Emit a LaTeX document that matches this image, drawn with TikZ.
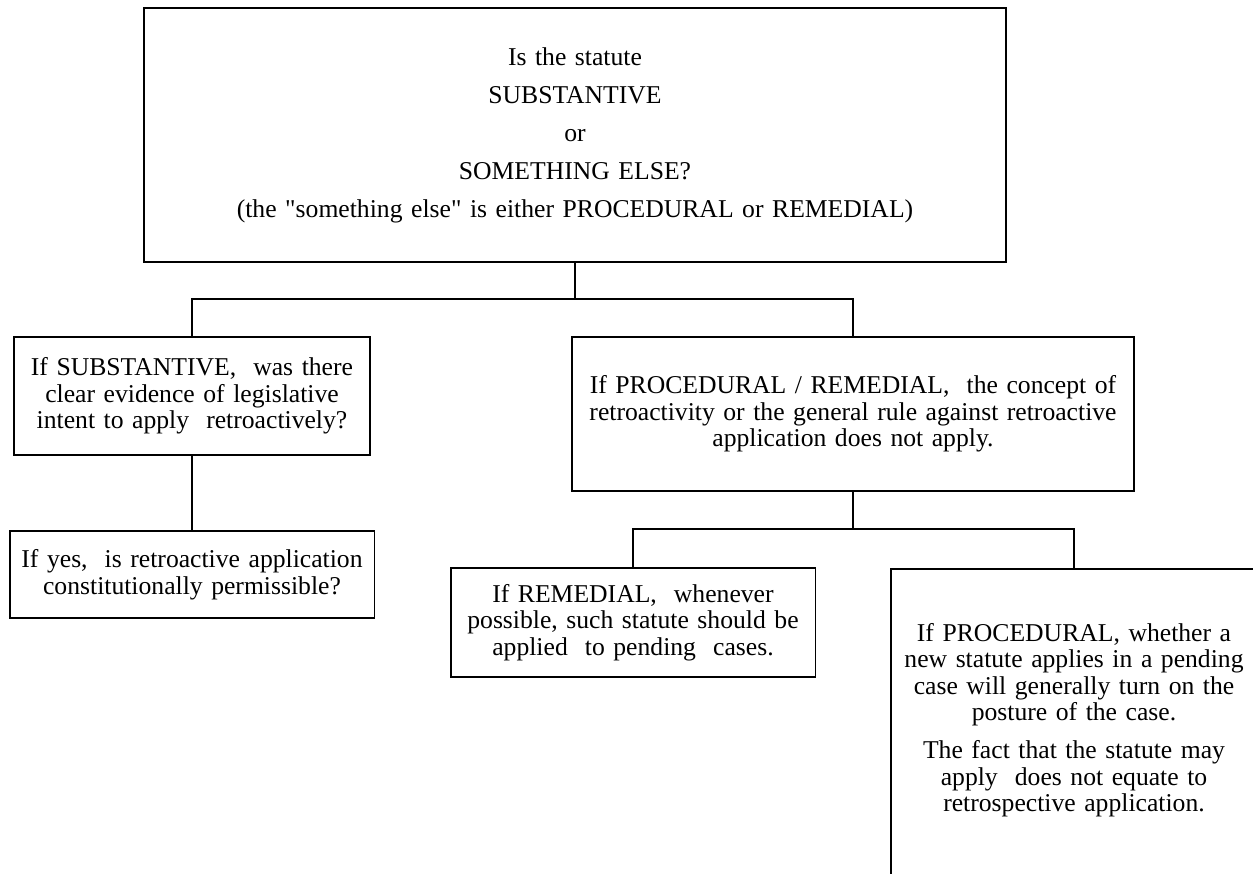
\documentclass[tikz,border=0pt]{standalone}
\usepackage{fontspec}
\setmainfont{Liberation Serif}[Ligatures=TeXOff]
\usetikzlibrary{positioning}

\begin{document}
\begin{tikzpicture}[x=0.02cm, y=-0.02cm, line width=1.1pt,
    qbox/.style={draw, rectangle, align=center, inner xsep=0pt, inner ysep=0pt,
        font=\fontsize{14.6}{15.1}\selectfont}]

\clip (0,0) rectangle (1253,873);

% Top question
\node[qbox, text width=17.24cm, minimum height=5.08cm] (statute) at (575,135)
    {Is the statute\\[6.5pt] SUBSTANTIVE\\[6.5pt] or\\[6.5pt] SOMETHING ELSE?\\[6.5pt]
     (the "something else" is either PROCEDURAL or REMEDIAL)};

% Substantive branch
\node[qbox, text width=7.12cm, minimum height=2.36cm] (subst) at (192,396)
    {If SUBSTANTIVE, \ was there\\ clear evidence of legislative\\ intent to apply \ retroactively?};
\node[qbox, text width=7.3cm, minimum height=1.74cm] (yes) at (192,574.5)
    {If yes, \ is retroactive application\\ constitutionally permissible?};

% Procedural / remedial branch
\node[qbox, text width=11.26cm, minimum height=3.08cm] (procrem) at (853,414)
    {If PROCEDURAL / REMEDIAL, \ the concept of\\ retroactivity or the general rule against retroactive\\ application does not apply.\\[0.56cm]};
\node[qbox, text width=7.3cm, minimum height=2.18cm] (remedial) at (633,622.5)
    {If REMEDIAL, \ whenever\\ possible, such statute should be\\ applied \ to pending \ cases.};
\node[qbox, text width=7.32cm, anchor=north, inner ysep=1.08cm, text depth=4cm] (procedural) at (1074,568)
    {If PROCEDURAL, whether a\\ new statute applies in a pending\\ case will generally turn on the\\ posture of the case.\\[6.5pt]
     The fact that the statute may\\ apply \ does not equate to\\ retrospective application.};

% Connections
\coordinate (split1) at (575,299);
\coordinate (split2) at (853,529);
\draw (statute.south) -- (split1);
\draw (subst.north) |- (split1) -| (procrem.north);
\draw (subst.south) -- (yes.north);
\draw (procrem.south) -- (split2);
\draw (remedial.north) |- (split2) -| (procedural.north);

\end{tikzpicture}
\end{document}
